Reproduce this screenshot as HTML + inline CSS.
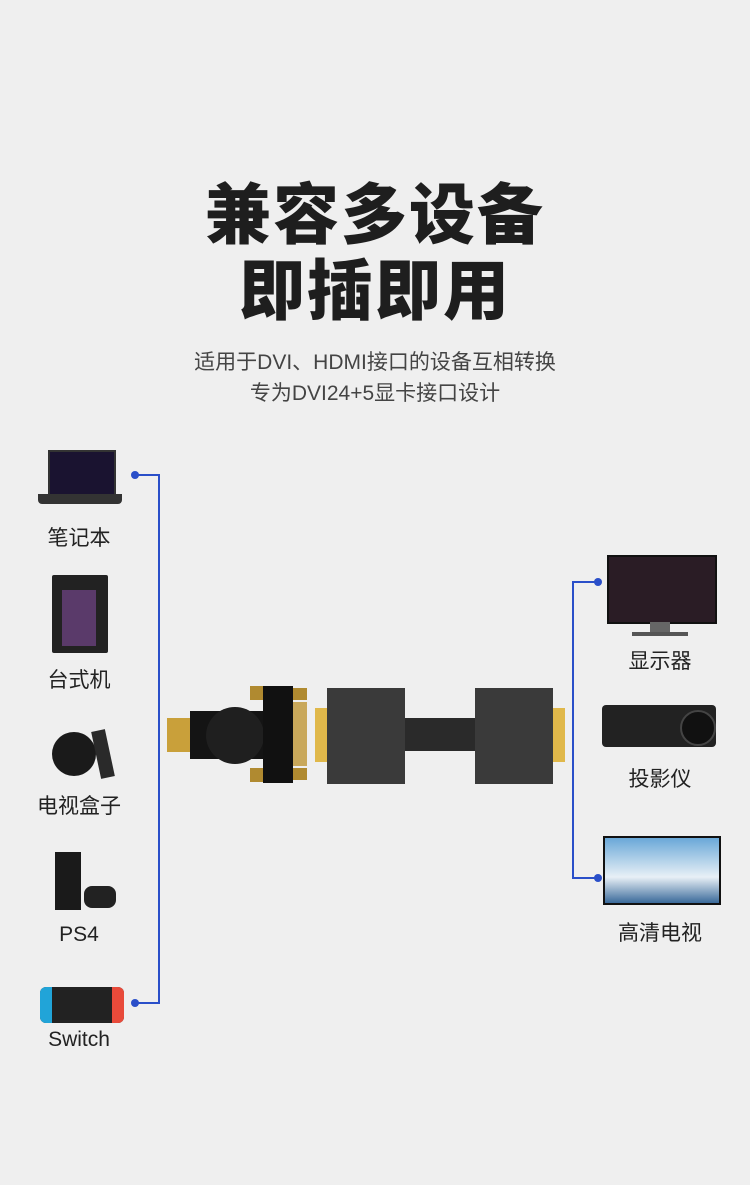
<!DOCTYPE html>
<html><head><meta charset="utf-8"><style>
body{margin:0;width:750px;height:1185px;background:#efefef;position:relative;overflow:hidden;font-family:"Liberation Sans","Noto Sans CJK SC",sans-serif;}
.a{position:absolute}
.t{left:0;width:750px;text-align:center;font-weight:900;font-size:66px;color:#1e1e1e;letter-spacing:2px}
.s{left:0;width:750px;text-align:center;font-size:21px;color:#444}
.l{position:absolute;width:130px;text-align:center;font-size:21px;color:#222}
.b{position:absolute;background:#2a4fc9}
.d{position:absolute;width:8px;height:8px;border-radius:50%;background:#2a4fc9}
</style></head><body>
<div class="a t" style="top:162px">兼容多设备</div>
<div class="a t" style="top:238px">即插即用</div>
<div class="a s" style="top:346px">适用于DVI、HDMI接口的设备互相转换</div>
<div class="a s" style="top:377px">专为DVI24+5显卡接口设计</div>

<div class="b" style="left:137px;top:474px;width:23px;height:2px"></div>
<div class="b" style="left:158px;top:474px;width:2px;height:530px"></div>
<div class="b" style="left:137px;top:1002px;width:23px;height:2px"></div>
<div class="d" style="left:131px;top:471px"></div>
<div class="d" style="left:131px;top:999px"></div>
<div class="b" style="left:572px;top:581px;width:25px;height:2px"></div>
<div class="b" style="left:572px;top:581px;width:2px;height:298px"></div>
<div class="b" style="left:572px;top:877px;width:25px;height:2px"></div>
<div class="d" style="left:594px;top:578px"></div>
<div class="d" style="left:594px;top:874px"></div>

<div class="a" style="left:48px;top:450px;width:64px;height:42px;background:#1a1330;border:2px solid #333"></div>
<div class="a" style="left:38px;top:494px;width:84px;height:10px;background:#333;border-radius:0 0 4px 4px"></div>
<div class="l" style="left:14px;top:522px">笔记本</div>
<div class="a" style="left:52px;top:575px;width:56px;height:78px;background:#222;border-radius:2px"></div>
<div class="a" style="left:62px;top:590px;width:34px;height:56px;background:#5a3a6a"></div>
<div class="l" style="left:14px;top:664px">台式机</div>
<div class="a" style="left:52px;top:732px;width:44px;height:44px;border-radius:50%;background:#1a1a1a"></div>
<div class="a" style="left:96px;top:730px;width:14px;height:48px;background:#2a2a2a;transform:rotate(-12deg)"></div>
<div class="l" style="left:14px;top:790px">电视盒子</div>
<div class="a" style="left:55px;top:852px;width:26px;height:58px;background:#1a1a1a"></div>
<div class="a" style="left:84px;top:886px;width:32px;height:22px;background:#222;border-radius:8px"></div>
<div class="l" style="left:14px;top:923px">PS4</div>
<div class="a" style="left:40px;top:987px;width:84px;height:36px;background:#222;border-radius:6px"></div>
<div class="a" style="left:40px;top:987px;width:12px;height:36px;background:#21a4d8;border-radius:6px 0 0 6px"></div>
<div class="a" style="left:112px;top:987px;width:12px;height:36px;background:#e84a3a;border-radius:0 6px 6px 0"></div>
<div class="l" style="left:14px;top:1028px">Switch</div>

<div class="a" style="left:607px;top:555px;width:106px;height:65px;background:#2a1c25;border:2px solid #111"></div>
<div class="a" style="left:650px;top:622px;width:20px;height:10px;background:#666"></div>
<div class="a" style="left:632px;top:632px;width:56px;height:4px;background:#555"></div>
<div class="l" style="left:595px;top:645px">显示器</div>
<div class="a" style="left:602px;top:705px;width:114px;height:42px;background:#222;border-radius:4px"></div>
<div class="a" style="left:680px;top:710px;width:32px;height:32px;border-radius:50%;background:#111;border:2px solid #444"></div>
<div class="l" style="left:595px;top:763px">投影仪</div>
<div class="a" style="left:603px;top:836px;width:114px;height:65px;background:linear-gradient(#6aa8d8,#e8f0f6 60%,#3a6a9a);border:2px solid #111"></div>
<div class="l" style="left:595px;top:917px">高清电视</div>

<div class="a" style="left:167px;top:718px;width:24px;height:34px;background:#c9a03a"></div>
<div class="a" style="left:190px;top:711px;width:75px;height:48px;background:#141414"></div>
<div class="a" style="left:206px;top:707px;width:58px;height:57px;background:#1f1f1f;border-radius:50%"></div>
<div class="a" style="left:250px;top:686px;width:14px;height:14px;background:#b08a30"></div>
<div class="a" style="left:250px;top:768px;width:14px;height:14px;background:#b08a30"></div>
<div class="a" style="left:263px;top:686px;width:30px;height:97px;background:#111"></div>
<div class="a" style="left:293px;top:688px;width:14px;height:12px;background:#b08a30"></div>
<div class="a" style="left:293px;top:768px;width:14px;height:12px;background:#b08a30"></div>
<div class="a" style="left:293px;top:702px;width:14px;height:64px;background:#c9a85a"></div>
<div class="a" style="left:315px;top:708px;width:12px;height:54px;background:#e0b84a"></div>
<div class="a" style="left:327px;top:688px;width:78px;height:96px;background:#3a3a3a"></div>
<div class="a" style="left:405px;top:718px;width:70px;height:33px;background:#2a2a2a"></div>
<div class="a" style="left:475px;top:688px;width:78px;height:96px;background:#3a3a3a"></div>
<div class="a" style="left:553px;top:708px;width:12px;height:54px;background:#e0b84a"></div>
</body></html>
